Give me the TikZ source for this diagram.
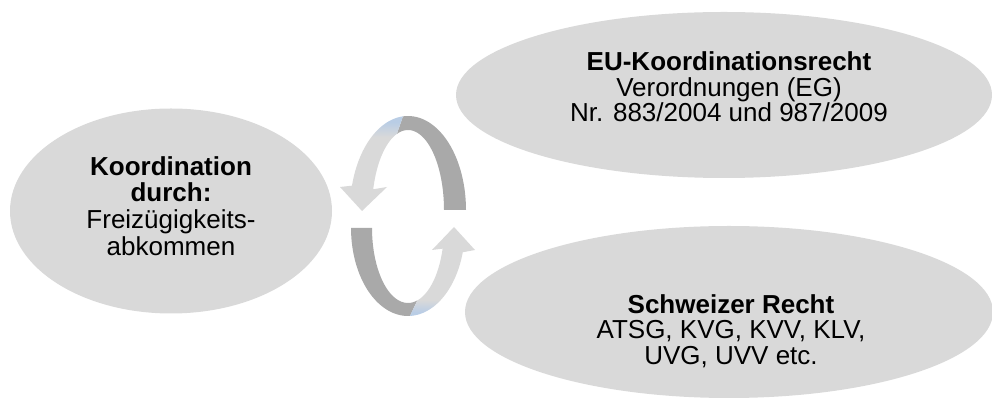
\documentclass[tikz,border=0pt]{standalone}
\usepackage{fontspec}
\setmainfont{Liberation Sans}
\usetikzlibrary{shapes.geometric}
\definecolor{blobgray}{HTML}{D9D9D9}
\definecolor{ringdark}{HTML}{A9A9A9}
\definecolor{ringlight}{HTML}{D9D9D9}
\definecolor{ringblue}{HTML}{B9CDE5}
\pgfdeclareverticalshading{ringtopfade}{100bp}{color(0bp)=(ringlight); color(64bp)=(ringlight); color(72bp)=(ringblue); color(100bp)=(ringblue)}
\pgfdeclareverticalshading{ringbotfade}{100bp}{color(0bp)=(ringblue); color(27bp)=(ringblue); color(34bp)=(ringlight); color(100bp)=(ringlight)}
\tikzset{
  blob/.style={ellipse, fill=blobgray, draw=none, inner sep=0pt},
  blobtext/.style={align=center, text=black, font=\fontsize{19.5pt}{19pt}\selectfont},
}

\begin{document}
\begin{tikzpicture}[x=0.75pt, y=-0.75pt]
\useasboundingbox (0,0) rectangle (992,398);

% --- Left: coordination ---
\node[blob, minimum width=241.5pt, minimum height=153.75pt] (fzk) at (171,211) {};
\node[blobtext, font=\fontsize{19.5pt}{20pt}\selectfont] (fzktext) at (171,206)
  {\textbf{Koordination}\\\textbf{durch:}\\Freizügigkeits-\\abkommen};

% --- Right: the two bodies of law ---
\node[blob, minimum width=402pt, minimum height=124.5pt] (eurecht) at (724,95) {};
\node[blobtext] (eutext) at (729,87)
  {\textbf{EU-Koordinationsrecht}\\Verordnungen (EG)\\Nr. 883/2004 und 987/2009};

\node[blob, minimum width=396pt, minimum height=129pt] (chrecht) at (729,312) {};
\node[blobtext] (chtext) at (731,331)
  {\textbf{Schweizer Recht}\\ATSG, KVG, KVV, KLV,\\UVG, UVV etc.};

% --- Middle: circular arrows ---
% upper half, pointing down on the left
\fill[ringdark] plot[domain=0:-95, samples=30] ({408+58*cos(\x)},{210+94*sin(\x)})
  -- plot[domain=-108:0, samples=30] ({408+36*cos(\x)},{210+80*sin(\x)}) -- cycle;
\shade[shading=ringtopfade] plot[domain=-95:-165, samples=30] ({408+58*cos(\x)},{210+94*sin(\x)})
  -- (340,187) -- (362,211) -- (387,187)
  -- plot[domain=-165:-108, samples=30] ({408+36*cos(\x)},{210+80*sin(\x)}) -- cycle;

% lower half, pointing up on the right
\fill[ringdark] plot[domain=180:88, samples=30] ({408+57*cos(\x)},{228+88*sin(\x)})
  -- plot[domain=75:180, samples=30] ({408+36*cos(\x)},{228+75*sin(\x)}) -- cycle;
\shade[shading=ringbotfade] plot[domain=88:16, samples=30] ({408+57*cos(\x)},{228+88*sin(\x)})
  -- (475,250) -- (454,227) -- (432,250)
  -- plot[domain=16:75, samples=30] ({408+36*cos(\x)},{228+75*sin(\x)}) -- cycle;
\end{tikzpicture}
\end{document}
